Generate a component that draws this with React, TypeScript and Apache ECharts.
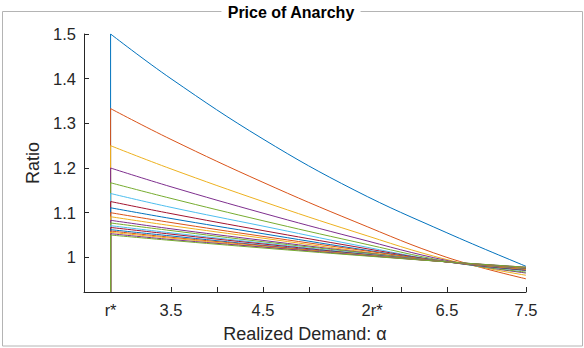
import React, { useEffect, useRef } from "react";
import * as echarts from "echarts";

// x positions (value units) where each curve was sampled
const R_STAR = 2.843;
const TWO_R_STAR = 5.687;
const X_MIN = 2.554;
const X_END = 7.36;
const Y_MIN = 0.9225;
const Y_MAX = 1.5;
const xSamples = [R_STAR, 3.5, 4.5, 5.5, 6.5, X_END];

// tick labels
const xTickValues = [R_STAR, 3.5, 4.0, 4.5, 5.0, TWO_R_STAR, 6.0, 6.5, X_END];
const xLabelValues = [R_STAR, 3.5, 4.5, TWO_R_STAR, 6.5, X_END];
const xLabelTexts = ["r*", "3.5", "4.5", "2r*", "6.5", "7.5"];
const yTickValues = [1, 1.1, 1.2, 1.3, 1.4, 1.5];
const yLabelTexts = ["1", "1.1", "1.2", "1.3", "1.4", "1.5"];

// ratio curves, values read at xSamples
const curve02 = [1.5, 1.4, 1.265, 1.15, 1.055, 0.98];
const curve03 = [1.333, 1.264, 1.168, 1.08, 1.0, 0.952];
const curve04 = [1.25, 1.198, 1.125, 1.057, 0.995, 0.96];
const curve05 = [1.2, 1.158, 1.099, 1.044, 0.993, 0.965];
const curve06 = [1.167, 1.132, 1.082, 1.035, 0.991, 0.967];
const curve07 = [1.143, 1.112, 1.07, 1.028, 0.99, 0.97];
const curve08 = [1.125, 1.098, 1.06, 1.024, 0.99, 0.971];
const curve09 = [1.111, 1.087, 1.053, 1.02, 0.99, 0.972];
const curve10 = [1.1, 1.078, 1.047, 1.018, 0.99, 0.973];
const curve11 = [1.091, 1.071, 1.043, 1.015, 0.99, 0.974];
const curve12 = [1.083, 1.064, 1.038, 1.013, 0.99, 0.975];
const curve13 = [1.077, 1.06, 1.035, 1.012, 0.99, 0.975];
const curve14 = [1.071, 1.055, 1.032, 1.01, 0.99, 0.976];
const curve15 = [1.067, 1.052, 1.03, 1.009, 0.99, 0.976];
const curve16 = [1.062, 1.048, 1.027, 1.008, 0.99, 0.977];
const curve17 = [1.059, 1.045, 1.026, 1.007, 0.99, 0.977];
const curve18 = [1.056, 1.043, 1.024, 1.007, 0.99, 0.977];
const curve19 = [1.053, 1.04, 1.023, 1.006, 0.99, 0.978];
const curve20 = [1.05, 1.038, 1.021, 1.005, 0.99, 0.978];

const curves = [
  curve02, curve03, curve04, curve05, curve06, curve07, curve08, curve09, curve10,
  curve11, curve12, curve13, curve14, curve15, curve16, curve17, curve18, curve19, curve20,
];

const palette = ["#0072BD", "#D95319", "#EDB120", "#7E2F8E", "#77AC30", "#4DBEEE", "#A2142F"];

const AXIS_COLOR = "#262626";
const FONT = "'Liberation Sans', Arial, Helvetica, sans-serif";

export default function App() {
  const ref = useRef<HTMLDivElement>(null);

  useEffect(() => {
    if (!ref.current) return;
    const chart = echarts.init(ref.current, undefined, { renderer: "svg" });

    const series: any[] = [];
    curves.forEach((vals, i) => {
      const color = palette[i % palette.length];
      series.push({
        type: "line",
        name: "stem" + i,
        data: [
          [R_STAR, Y_MIN],
          [R_STAR, vals[0]],
        ],
        symbol: "none",
        lineStyle: { color, width: 1 },
        itemStyle: { color },
        silent: true,
      });
      series.push({
        type: "line",
        name: "curve" + i,
        data: xSamples.map((x, j) => [x, vals[j]]),
        smooth: 0.4,
        symbol: "none",
        lineStyle: { color, width: 1 },
        itemStyle: { color },
        silent: true,
      });
    });

    chart.setOption({
      animation: false,
      backgroundColor: "#ffffff",
      grid: { left: 84, right: 58, top: 34, bottom: 55 },
      xAxis: {
        type: "value",
        min: X_MIN,
        max: X_END,
        name: "Realized Demand: α",
        nameLocation: "middle",
        nameGap: 33,
        nameTextStyle: { color: AXIS_COLOR, fontSize: 18, fontFamily: FONT },
        axisLine: { onZero: false, lineStyle: { color: AXIS_COLOR, width: 1 } },
        axisTick: {
          inside: true,
          length: 5,
          customValues: xTickValues,
          lineStyle: { color: AXIS_COLOR },
        },
        axisLabel: {
          customValues: xLabelValues,
          margin: 9,
          color: AXIS_COLOR,
          fontSize: 16.5,
          fontFamily: FONT,
          showMinLabel: true,
          showMaxLabel: true,
          formatter: (v: number) => {
            const idx = xLabelValues.findIndex((t) => Math.abs(t - v) < 1e-6);
            return idx >= 0 ? xLabelTexts[idx] : "";
          },
        },
        splitLine: { show: false },
      },
      yAxis: {
        type: "value",
        min: Y_MIN,
        max: Y_MAX,
        name: "Ratio",
        nameLocation: "middle",
        nameGap: 42,
        nameTextStyle: { color: AXIS_COLOR, fontSize: 18, fontFamily: FONT },
        axisLine: { show: true, onZero: false, lineStyle: { color: AXIS_COLOR, width: 1 } },
        axisTick: {
          show: true,
          inside: true,
          length: 5,
          customValues: yTickValues,
          lineStyle: { color: AXIS_COLOR },
        },
        axisLabel: {
          customValues: yTickValues,
          margin: 8,
          color: AXIS_COLOR,
          fontSize: 16.5,
          fontFamily: FONT,
          showMinLabel: true,
          showMaxLabel: true,
          formatter: (v: number) => {
            const idx = yTickValues.findIndex((t) => Math.abs(t - v) < 1e-6);
            return idx >= 0 ? yLabelTexts[idx] : "";
          },
        },
        splitLine: { show: false },
      },
      graphic: [
        {
          type: "rect",
          z: 0,
          silent: true,
          shape: { x: 2.5, y: 11.5, width: 580, height: 334.5 },
          style: { fill: "none", stroke: "#b4b4b4", lineWidth: 1 },
        },
        {
          type: "text",
          z: 100,
          silent: true,
          x: 291,
          y: 12.5,
          style: {
            text: "Price of Anarchy",
            fontFamily: FONT,
            fontWeight: "bold",
            fontSize: 16,
            fill: "#000000",
            align: "center",
            verticalAlign: "middle",
            backgroundColor: "#ffffff",
            padding: [0, 6],
          },
        },
      ],
      series,
    });

    return () => {
      chart.dispose();
    };
  }, []);

  return (
    <div
      ref={ref}
      style={{ position: "fixed", left: 0, top: 0, width: 584, height: 348 }}
    />
  );
}
